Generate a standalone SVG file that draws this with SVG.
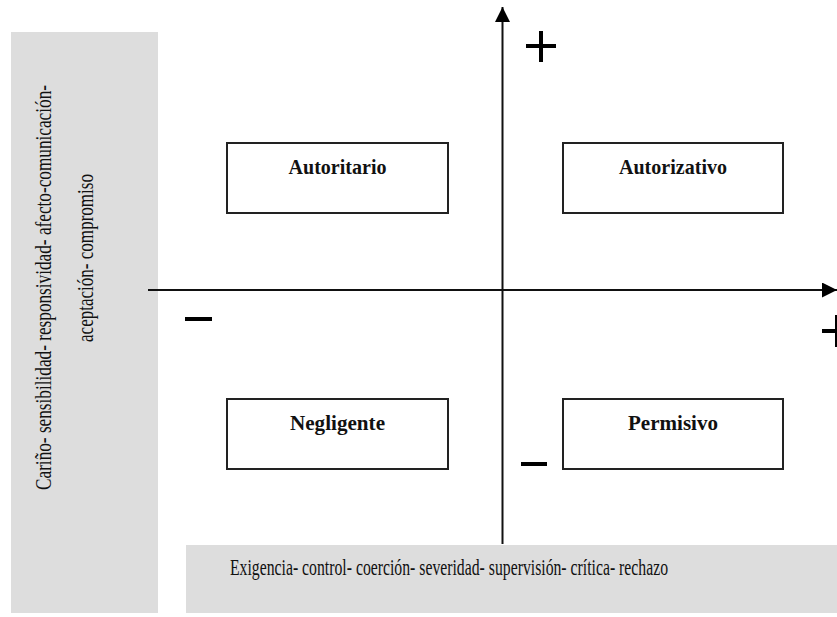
<svg xmlns="http://www.w3.org/2000/svg" width="837" height="617" viewBox="0 0 837 617">
  <style>
    .panel { fill: #dddddd; stroke: none; }
    .box { fill: #ffffff; stroke: #222222; stroke-width: 2; }
    .label { font-family: "Liberation Serif", "Times New Roman", serif; font-weight: bold; font-size: 22px; fill: #111111; text-anchor: middle; }
    .axis-text { font-family: "Liberation Serif", "Times New Roman", serif; font-size: 23px; fill: #111111; }
    .axis { stroke: #111111; stroke-width: 2; fill: none; }
    .sign { stroke: #000000; stroke-width: 4; fill: none; }
  </style>
  <defs>
    <marker id="arrow" viewBox="0 0 10 10" refX="10" refY="5" markerWidth="7.5" markerHeight="7.5" orient="auto" markerUnits="strokeWidth">
      <path d="M0,0 L10,5 L0,10 Z" fill="#000000"/>
    </marker>
  </defs>

  <rect width="837" height="617" fill="#ffffff"/>

  <g id="panel-left">
    <rect class="panel" x="11" y="32" width="147" height="581"/>
    <text class="axis-text" font-size="24" transform="translate(51,490) rotate(-90)" textLength="405" lengthAdjust="spacingAndGlyphs">Cariño- sensibilidad- responsividad- afecto-comunicación-</text>
    <text class="axis-text" font-size="24" transform="translate(93,342) rotate(-90)" textLength="168" lengthAdjust="spacingAndGlyphs">aceptación- compromiso</text>
  </g>

  <g id="panel-bottom">
    <rect class="panel" x="186" y="545" width="651" height="68"/>
    <text class="axis-text" x="230" y="575" textLength="438" lengthAdjust="spacingAndGlyphs">Exigencia- control- coerción- severidad- supervisión- crítica- rechazo</text>
  </g>

  <g id="connectors">
    <line class="axis" x1="502.5" y1="544" x2="502.5" y2="7" marker-end="url(#arrow)"/>
    <line class="axis" x1="148" y1="290" x2="837" y2="290" marker-end="url(#arrow)"/>
  </g>

  <g id="signs">
    <path class="sign" d="M526,46 H556 M541,31 V62"/>
    <path class="sign" d="M822,331 H852 M837,315 V347"/>
    <path class="sign" d="M185,319 H212"/>
    <path class="sign" d="M521,464 H547"/>
  </g>

  <g id="autoritario">
    <rect class="box" x="227" y="143" width="221" height="70"/>
    <text class="label" x="337.5" y="174" textLength="98" lengthAdjust="spacingAndGlyphs">Autoritario</text>
  </g>
  <g id="autorizativo">
    <rect class="box" x="563" y="143" width="220" height="70"/>
    <text class="label" x="673" y="174" textLength="108" lengthAdjust="spacingAndGlyphs">Autorizativo</text>
  </g>
  <g id="negligente">
    <rect class="box" x="227" y="399" width="221" height="70"/>
    <text class="label" x="337.5" y="430" textLength="95" lengthAdjust="spacingAndGlyphs">Negligente</text>
  </g>
  <g id="permisivo">
    <rect class="box" x="563" y="399" width="220" height="70"/>
    <text class="label" x="673" y="430" textLength="90" lengthAdjust="spacingAndGlyphs">Permisivo</text>
  </g>
</svg>
